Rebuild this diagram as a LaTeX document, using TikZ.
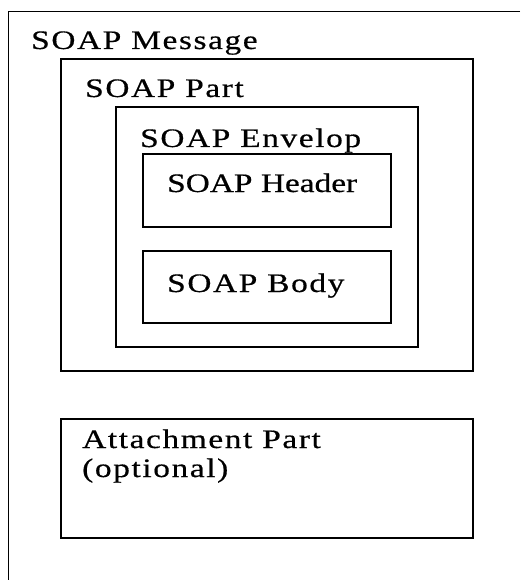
\documentclass[tikz,border=0pt]{standalone}
\usepackage{fontspec}
\setmainfont{Liberation Serif}[FakeStretch=1.25,LetterSpace=6,FakeBold=0.5]
\usetikzlibrary{calc}

\tikzset{
  cadre/.style={draw, line width=2pt},
  etiq/.style={anchor=base west, inner sep=0pt, font=\fontsize{26.7}{29}\selectfont},
}

\begin{document}
\begin{tikzpicture}[x=1pt,y=-1pt]
		\useasboundingbox (0,0) rectangle (520,580);
		% Message SOAP (bord ouvert a droite et en bas)
		\draw[line width=1pt] (520,12) -- (8,12) -- (8,580);
		\node[etiq] (msg) at (31,49) {SOAP Message};
		% Partie SOAP
		\draw[cadre] (61,59) rectangle (473,371);
		\node[etiq] (part) at (85,97) {SOAP Part};
		% Enveloppe
		\draw[cadre] (116,107) rectangle (418,347);
		\node[etiq] (env) at (140,147) {SOAP Envelop};
		% En-tete
		\draw[cadre] (143,154) rectangle (391,227);
		\node[etiq] (head) at (167,192) {\addfontfeature{LetterSpace=0}SOAP Header};
		% Corps
		\draw[cadre] (143,251) rectangle (391,323);
		\node[etiq] (body) at (167,292) {SOAP Body};
		% Piece jointe
		\draw[cadre] (61,419) rectangle (473,538);
		\node[etiq] (att) at (82,448) {Attachment Part};
		\node[etiq] (opt) at (82,477) {(optional)};
\end{tikzpicture}
\end{document}
